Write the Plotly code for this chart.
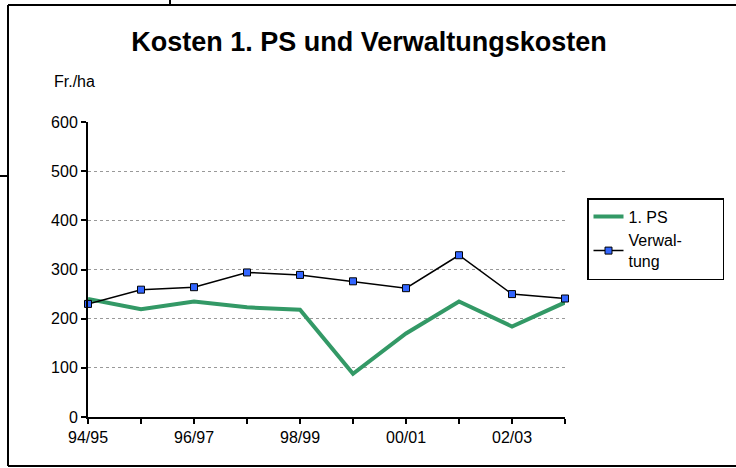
import plotly.graph_objects as go

categories = ["94/95", "95/96", "96/97", "97/98", "98/99", "99/00", "00/01", "01/02", "02/03", "03/04"]
ps1 = [240, 219, 235, 223, 218, 88, 170, 235, 184, 233]
verwaltung = [230, 259, 264, 294, 289, 276, 262, 329, 250, 241]
tick_labels = ["94/95", "", "96/97", "", "98/99", "", "00/01", "", "02/03", ""]
series_names = ["1. PS", "Verwal-<br>tung"]

xpos = list(range(len(categories)))

W, H = 736, 468
L, R, T, B = 88, 171, 122, 51
pw, ph = W - L - R, H - T - B
def px(x):
    return (x - L) / pw
def py(y):
    return (H - B - y) / ph

pad = "\u00a0" * 8

fig = go.Figure()
fig.add_trace(go.Scatter(
    x=xpos, y=ps1, name=series_names[0], mode="lines",
    line=dict(color="#339966", width=4), cliponaxis=False,
))
fig.add_trace(go.Scatter(
    x=xpos, y=verwaltung, name=series_names[1].replace("<br>", pad + "<br>"), mode="lines+markers",
    line=dict(color="black", width=1.5),
    marker=dict(symbol="square", size=7, color="#3366FF", line=dict(color="black", width=1)),
    cliponaxis=False,
))

fig.update_layout(
    width=W, height=H,
    paper_bgcolor="white", plot_bgcolor="white",
    margin=dict(l=L, r=R, t=T, b=B, autoexpand=False),
    font=dict(family="Liberation Sans, Arial, sans-serif", size=16, color="black"),
    title=dict(text="<b>Kosten 1. PS und Verwaltungskosten</b>", x=px(369), xref="paper", xanchor="center",
               y=1 - 42 / H, yanchor="middle", font=dict(size=27, color="black")),
    showlegend=True,
    legend=dict(x=px(587), y=py(198), xanchor="left", yanchor="top",
                bordercolor="black", borderwidth=1.5, font=dict(size=16)),
    xaxis=dict(range=[0, 9], tickmode="array", tickvals=xpos, ticktext=tick_labels,
               showgrid=False, showline=True, linecolor="black", linewidth=2,
               ticks="outside", ticklen=5, tickwidth=2, tickcolor="black", zeroline=False),
    yaxis=dict(range=[0, 600], tickvals=[0, 100, 200, 300, 400, 500, 600],
               showgrid=True, gridcolor="#999999", griddash="dot", gridwidth=1,
               showline=True, linecolor="black", linewidth=2,
               ticks="outside", ticklen=5, tickwidth=2, tickcolor="black", zeroline=False),
)

fig.add_annotation(text="Fr./ha", xref="paper", yref="paper",
                   x=px(74), y=py(82),
                   xanchor="center", yanchor="middle", showarrow=False, font=dict(size=16))

# outer frame and page artifacts
line = dict(color="black", width=2)
fig.add_shape(type="line", xref="paper", yref="paper", x0=px(8), x1=px(740), y0=py(5), y1=py(5), line=line)
fig.add_shape(type="line", xref="paper", yref="paper", x0=px(8), x1=px(8), y0=py(5), y1=py(466), line=line)
fig.add_shape(type="line", xref="paper", yref="paper", x0=px(8), x1=px(740), y0=py(466), y1=py(466), line=line)
fig.add_shape(type="line", xref="paper", yref="paper", x0=px(170), x1=px(170), y0=py(-2), y1=py(5), line=line)
fig.add_shape(type="line", xref="paper", yref="paper", x0=px(-2), x1=px(8), y0=py(176), y1=py(176), line=line)

fig.write_html("out.html", config={"displayModeBar": False},
               post_script="document.body.style.margin='0';document.body.style.overflow='hidden';")
